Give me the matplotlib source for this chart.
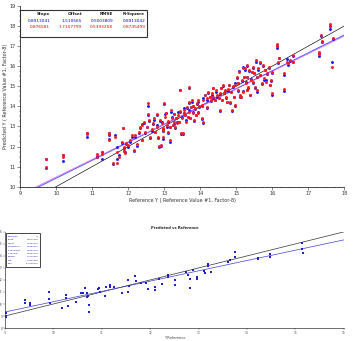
import numpy as np
import matplotlib
matplotlib.use("Agg")
import matplotlib.pyplot as plt
from matplotlib.patches import Rectangle

# ---- top chart: predicted vs reference, two models (blue / red) ----
ref_x = [9.72, 9.72, 10.19, 10.19, 10.87, 10.87, 11.13, 11.13, 11.27, 11.27,
         11.48, 11.48, 11.48, 11.59, 11.64, 11.69, 11.70, 11.76, 11.82, 11.87,
         11.89, 11.89, 11.92, 11.94, 12.01, 12.04, 12.10, 12.15, 12.19, 12.24,
         12.29, 12.33, 12.38, 12.38, 12.43, 12.47, 12.52, 12.55, 12.55, 12.59,
         12.61, 12.66, 12.69, 12.72, 12.75, 12.80, 12.81, 12.84, 12.87, 12.89,
         12.92, 12.94, 12.96, 12.98, 12.98, 13.00, 13.03, 13.06, 13.07, 13.10,
         13.12, 13.15, 13.17, 13.19, 13.21, 13.24, 13.26, 13.28, 13.31, 13.33,
         13.35, 13.38, 13.40, 13.43, 13.44, 13.46, 13.49, 13.52, 13.54, 13.56,
         13.58, 13.61, 13.63, 13.65, 13.68, 13.70, 13.68, 13.72, 13.74, 13.77,
         13.80, 13.81, 13.83, 13.86, 13.89, 13.91, 13.93, 13.95, 13.98, 14.05,
         14.09, 14.05, 14.09, 14.14, 14.19, 14.20, 14.23, 14.26, 14.30, 14.32,
         14.35, 14.37, 14.42, 14.44, 14.46, 14.51, 14.54, 14.56, 14.57, 14.60,
         14.63, 14.65, 14.69, 14.72, 14.74, 14.76, 14.80, 14.83, 14.85, 14.88,
         14.91, 14.94, 14.97, 14.97, 15.02, 15.04, 15.06, 15.09, 15.11, 15.13,
         15.16, 15.19, 15.20, 15.22, 15.25, 15.28, 15.30, 15.31, 15.34, 15.37,
         15.41, 15.44, 15.46, 15.48, 15.50, 15.53, 15.56, 15.57, 15.59, 15.62,
         15.65, 15.67, 15.71, 15.74, 15.78, 15.81, 15.83, 15.85, 15.90, 15.93,
         15.96, 15.99, 15.99, 15.30, 15.39, 16.13, 16.13, 16.15, 16.18, 16.33,
         16.33, 16.41, 16.45, 16.50, 16.57, 16.59, 17.29, 17.29, 17.36, 17.38,
         17.61, 17.61, 17.69, 17.66]
pred_blue = [10.91, 11.36, 11.30, 11.58, 12.49, 12.69, 11.53, 11.50, 11.36, 11.74,
             12.57, 12.69, 12.36, 11.13, 12.57, 11.99, 11.36, 11.58, 12.16, 12.91,
             11.91, 11.79, 11.74, 12.13, 12.00, 12.24, 12.49, 11.79, 12.46, 12.03,
             12.66, 12.91, 13.12, 12.33, 13.16, 12.69, 12.96, 14.02, 13.57, 13.29,
             12.41, 12.79, 13.12, 13.32, 12.74, 13.07, 13.57, 12.41, 11.96, 13.29,
             12.04, 13.24, 12.79, 12.86, 12.38, 14.10, 13.62, 13.65, 12.99, 13.22,
             12.66, 12.99, 12.24, 13.74, 13.49, 13.07, 13.12, 13.62, 12.91, 13.41,
             13.24, 13.74, 13.24, 13.70, 14.82, 12.62, 13.49, 12.62, 13.65, 13.90,
             13.57, 13.32, 13.90, 13.49, 14.15, 13.82, 14.90, 13.41, 13.99, 14.24,
             13.74, 14.02, 13.29, 13.86, 13.57, 14.10, 13.74, 14.24, 13.96, 13.37,
             13.16, 14.02, 14.40, 14.57, 14.32, 13.90, 14.68, 14.49, 14.29, 14.57,
             14.90, 14.44, 14.32, 14.73, 14.49, 14.40, 13.75, 14.60, 14.90, 14.32,
             15.02, 14.65, 14.78, 14.40, 14.24, 14.78, 15.07, 14.15, 14.73, 13.75,
             14.95, 14.49, 15.15, 14.02, 15.40, 14.78, 15.15, 15.78, 14.49, 14.49,
             15.25, 14.78, 15.98, 15.48, 15.81, 15.22, 16.01, 15.48, 14.90, 15.76,
             15.38, 15.73, 15.91, 15.15, 15.65, 14.90, 16.23, 15.48, 14.73, 15.81,
             16.18, 15.57, 15.09, 16.01, 15.32, 15.81, 15.32, 15.62, 15.91, 15.07,
             15.25, 15.68, 14.57, 14.82, 14.57, 16.89, 16.99, 16.15, 16.40, 15.57,
             14.78, 16.35, 16.06, 16.26, 16.51, 16.23, 16.64, 16.51, 17.48, 17.23,
             17.84, 18.01, 17.34, 16.23]
pred_red = [11.00, 11.36, 11.50, 11.58, 12.61, 12.69, 11.61, 11.50, 11.63, 11.74,
            12.61, 12.69, 12.33, 11.16, 12.46, 11.74, 11.16, 11.46, 12.24, 12.94,
            11.99, 11.79, 11.66, 12.19, 12.08, 12.33, 12.57, 11.83, 12.57, 12.13,
            12.74, 12.99, 13.07, 12.33, 13.24, 12.74, 12.99, 14.19, 13.62, 13.32,
            12.49, 12.86, 13.16, 13.41, 12.74, 12.99, 13.62, 12.49, 12.01, 13.32,
            12.08, 13.16, 12.84, 12.94, 12.46, 14.19, 13.49, 13.65, 13.07, 13.29,
            12.74, 12.99, 12.33, 13.82, 13.41, 13.07, 13.24, 13.62, 12.99, 13.41,
            13.16, 13.57, 13.24, 13.78, 14.82, 12.66, 13.41, 12.66, 13.65, 13.82,
            13.57, 13.24, 13.99, 13.49, 14.24, 13.74, 14.95, 13.41, 13.99, 14.32,
            13.65, 14.02, 13.32, 13.90, 13.57, 14.15, 13.65, 14.32, 14.02, 13.41,
            13.24, 14.07, 14.32, 14.57, 14.40, 13.99, 14.73, 14.49, 14.32, 14.65,
            14.90, 14.49, 14.32, 14.82, 14.57, 14.40, 13.82, 14.65, 14.90, 14.32,
            15.07, 14.65, 14.82, 14.49, 14.24, 14.85, 15.07, 14.24, 14.73, 13.82,
            15.00, 14.49, 15.07, 14.07, 15.48, 14.82, 15.15, 15.73, 14.57, 14.49,
            15.32, 14.73, 15.90, 15.48, 15.90, 15.15, 16.06, 15.48, 14.95, 15.81,
            15.32, 15.73, 15.98, 15.23, 15.65, 14.95, 16.31, 15.48, 14.82, 15.90,
            16.23, 15.57, 15.15, 16.06, 15.40, 15.81, 15.23, 15.65, 15.98, 15.07,
            15.32, 15.73, 14.65, 14.82, 14.57, 17.11, 17.02, 16.23, 16.40, 15.65,
            14.85, 16.23, 16.15, 16.31, 16.56, 16.23, 16.73, 16.60, 17.56, 17.28,
            18.11, 18.01, 17.39, 15.98]

stats_header = ["Slope", "Offset", "RMSE", "R-Square"]
stats_blue = ["0.8913041", "1.510565", "0.5003809", "0.8913042"]
stats_red = ["0.876581", "1.7157799", "0.5393258", "0.8745499"]
slope_blue, offset_blue = 0.8913041, 1.510565
slope_red, offset_red = 0.876581, 1.7157799

# ---- bottom chart: single model ----
bot_x = [9.02, 9.02, 9.03, 9.41, 9.41, 9.52, 9.52, 9.91, 9.91, 9.93,
         10.17, 10.27, 10.27, 10.31, 10.47, 10.58, 10.62, 10.65, 10.69, 10.70,
         10.72, 10.74, 10.74, 10.93, 10.95, 10.96, 11.07, 11.09, 11.17, 11.17,
         11.25, 11.41, 11.55, 11.57, 11.55, 11.68, 11.70, 11.82, 11.92, 11.96,
         12.10, 12.10, 12.19, 12.24, 12.36, 12.37, 12.51, 12.51, 12.75, 12.78,
         12.83, 12.83, 12.88, 12.96, 12.96, 13.11, 13.13, 13.20, 13.20, 13.25,
         13.61, 13.65, 13.75, 13.75, 14.23, 14.23, 14.47, 14.47, 15.13, 15.13,
         15.15]
bot_y = [9.22, 9.00, 8.89, 10.33, 10.11, 10.06, 9.89, 10.97, 10.39, 10.11,
         9.64, 10.75, 10.47, 9.83, 10.19, 10.94, 10.89, 11.31, 10.94, 10.61,
         10.67, 9.92, 9.31, 11.25, 11.31, 11.03, 10.67, 11.44, 11.58, 11.39,
         11.39, 10.94, 12.00, 11.50, 11.00, 12.33, 11.92, 11.78, 11.78, 11.22,
         11.39, 11.17, 12.06, 11.67, 12.42, 12.22, 12.00, 11.58, 12.69, 12.42,
         12.06, 11.33, 12.83, 12.28, 12.06, 12.78, 12.61, 13.17, 13.33, 12.69,
         13.47, 13.67, 14.31, 13.94, 13.78, 13.86, 14.17, 13.94, 15.06, 14.56,
         14.22]
bot_slope, bot_offset = 0.8571429, 1.6190476
bot_names = ["Elements:", "Slope:", "Offset:", "Correlation:", "R-Square(P):",
             "R-Square:", "RMSEP:", "SEP:", "Bias:"]
bot_values = ["71", "0.8571429", "1.6190476", "0.9452367", "0.8934723",
              "0.8812045", "0.4210396", "0.4231187", "-0.0146213"]

fig = plt.figure(figsize=(3.53, 3.41), dpi=100)

# top panel
ax = fig.add_axes([0.057, 0.4525, 0.918, 0.530])
ax.scatter(ref_x, pred_blue, s=4.5, c="#1a1aff", linewidths=0, zorder=3)
ax.scatter(ref_x, pred_red, s=4.5, c="#ff1a1a", linewidths=0, zorder=4)
xx = np.array([9, 18])
ax.plot(xx, xx, color="black", lw=0.45, zorder=2)
ax.plot(xx, slope_blue * xx + offset_blue, color="#5050ff", lw=0.7, zorder=2)
ax.plot(xx, slope_red * xx + offset_red, color="#e060e0", lw=0.5, zorder=2)
ax.set_xlim(9, 18)
ax.set_ylim(10, 19)
ax.set_xticks(range(9, 19))
ax.set_yticks(range(10, 20))
ax.set_xticks(np.arange(9, 18.01, 0.25), minor=True)
ax.set_yticks(np.arange(10, 19.01, 0.25), minor=True)
ax.tick_params(labelsize=3.5, length=2, width=0.4, pad=1, colors="#333333")
ax.tick_params(which="minor", length=1, width=0.3)
for s in ["top", "right"]:
    ax.spines[s].set_visible(False)
for s in ["left", "bottom"]:
    ax.spines[s].set_linewidth(0.5)
ax.set_xlabel("Reference Y ( Reference Value #1, Factor-8)", fontsize=3.5, labelpad=1.5, color="#333333")
ax.set_ylabel("Predicted Y ( Reference Value #1, Factor-8)", fontsize=3.5, labelpad=1.5, color="#333333")

# statistics table
ax.add_patch(Rectangle((0.0, 0.828), 0.392, 0.15, transform=ax.transAxes,
                       fill=False, lw=0.8, edgecolor="#333333", zorder=5))
col_right = [0.093, 0.191, 0.287, 0.386]
for i, cx in enumerate(col_right):
    ax.text(cx, 0.955, stats_header[i], transform=ax.transAxes, ha="right", va="center",
            fontsize=3.1, fontweight="bold", color="#222222")
    ax.text(cx, 0.917, stats_blue[i], transform=ax.transAxes, ha="right", va="center",
            fontsize=3.1, color="#0000ee")
    ax.text(cx, 0.882, stats_red[i], transform=ax.transAxes, ha="right", va="center",
            fontsize=3.1, color="#ee0000")

# bottom panel
bx = fig.add_axes([0.014, 0.038, 0.960, 0.282])
bx.scatter(bot_x, bot_y, s=1.5, c="#2020cc", marker="s", linewidths=0, zorder=3)
bxx = np.array([9, 16])
bx.plot(bxx, bxx, color="#333333", lw=0.5, zorder=2)
bx.plot(bxx, bot_slope * bxx + bot_offset, color="#4040dd", lw=0.5, zorder=2)
bx.set_xlim(9, 16)
bx.set_ylim(8, 16)
bx.set_xticks(range(9, 17))
bx.set_yticks(range(8, 17))
bx.tick_params(labelsize=2.2, length=1.2, width=0.3, pad=0.6, colors="#555555")
for s in ["top", "right"]:
    bx.spines[s].set_visible(False)
for s in ["left", "bottom"]:
    bx.spines[s].set_linewidth(0.4)
bx.set_xlabel("Y Reference", fontsize=2.6, labelpad=0.8, color="#444444")
bx.set_title("Predicted vs Reference", fontsize=2.6, fontweight="bold", pad=2, color="#222222")

bx.add_patch(Rectangle((0.003, 0.635), 0.100, 0.355, transform=bx.transAxes,
                       fill=False, lw=0.7, edgecolor="#444444", zorder=5))
for i, (nm, val) in enumerate(zip(bot_names, bot_values)):
    yy = 0.955 - i * 0.036
    bx.text(0.009, yy, nm, transform=bx.transAxes, ha="left", va="center",
            fontsize=1.6, color="#2020aa")
    bx.text(0.098, yy, val, transform=bx.transAxes, ha="right", va="center",
            fontsize=1.6, color="#2020aa")

fig.savefig("out.png", dpi=100)
